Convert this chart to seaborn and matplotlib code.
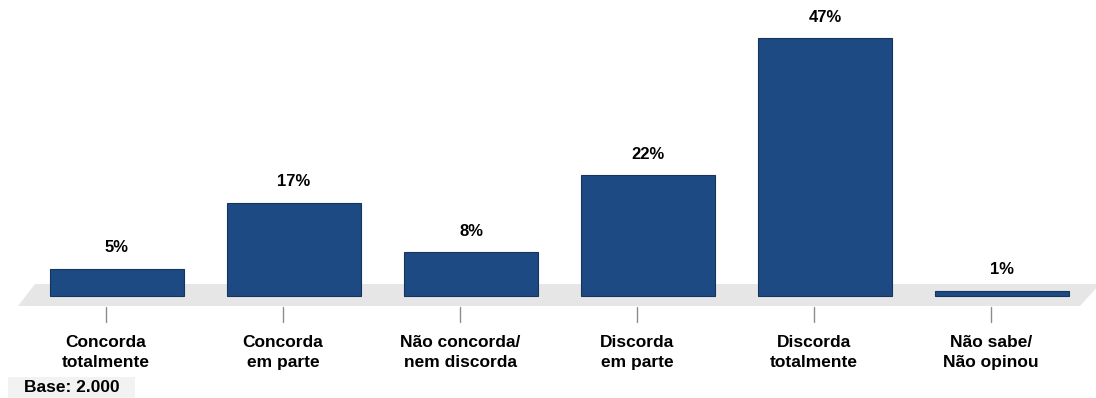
import matplotlib
matplotlib.use("Agg")
import matplotlib.pyplot as plt
from matplotlib.patches import Polygon, Rectangle
import seaborn as sns
import pandas as pd

# Survey answers and their shares (%)
categories = ["Concorda\ntotalmente", "Concorda\nem parte", "Não concorda/\nnem discorda",
              "Discorda\nem parte", "Discorda\ntotalmente", "Não sabe/\nNão opinou"]
values = [5, 17, 8, 22, 47, 1]
value_labels = ["5%", "17%", "8%", "22%", "47%", "1%"]
base_note = "Base: 2.000"

BAR_COLOR = "#1d4a83"
EDGE_COLOR = "#15355f"
FLOOR_COLOR = "#e6e6e6"

sns.set_theme(style="white")
plt.rcParams["font.family"] = ["Liberation Sans", "DejaVu Sans"]

W, H = 1096, 398
fig = plt.figure(figsize=(W / 100, H / 100), dpi=100)
ax = fig.add_axes([0, 0, 1, 1])

df = pd.DataFrame({"cat": categories, "val": values})
sns.barplot(data=df, x="cat", y="val", color=BAR_COLOR, saturation=1,
            width=0.757, edgecolor=EDGE_COLOR, linewidth=0.8, ax=ax, zorder=3)

# Axis scaling: category spacing 177 px, 5.49 px per percentage point
step_px, first_px, base_px, px_per_pct = 177.0, 117.0, 296.0, 5.49
ax.set_xlim(-first_px / step_px, (W - first_px) / step_px)
ax.set_ylim(-(H - base_px) / px_per_pct, base_px / px_per_pct)
ax.set_axis_off()

def px(x, y):
    """Pixel position (from top-left) to data coordinates."""
    return ((x - first_px) / step_px, (base_px - y) / px_per_pct)

# Perspective floor under the bars
floor = Polygon([px(18, 306), px(35, 284), px(1100, 284), px(1080, 306)],
                closed=True, facecolor=FLOOR_COLOR, edgecolor="none", zorder=1)
ax.add_patch(floor)

# Ticks sit at the floor's front edge, slightly left of the bar faces
tick_shift = -11.0 / step_px
for i, cat in enumerate(categories):
    xt = i + tick_shift
    _, y0 = px(0, 307)
    _, y1 = px(0, 322)
    ax.plot([xt, xt], [y0, y1], color="#8c8c8c", lw=1.0, zorder=2)
    ax.text(xt, px(0, 352.5)[1], cat, ha="center", va="center", fontsize=12.5,
            fontweight="bold", color="#000000", linespacing=1.45)

# Value labels above the bars
for i, (v, lab) in enumerate(zip(values, value_labels)):
    ax.annotate(lab, (i, v), xytext=(0, 15), textcoords="offset points",
                ha="center", va="center", fontsize=12, fontweight="bold",
                color="#000000")

# Sample-size note
fig.patches.append(Rectangle((8 / W, 0), 127 / W, 21 / H, transform=fig.transFigure,
                             facecolor="#f2f2f2", edgecolor="none", zorder=0))
fig.text(72 / W, 1 - 387 / H, base_note, ha="center", va="center", fontsize=12.5,
         fontweight="bold", color="#000000")

fig.savefig("out.png", dpi=100)
